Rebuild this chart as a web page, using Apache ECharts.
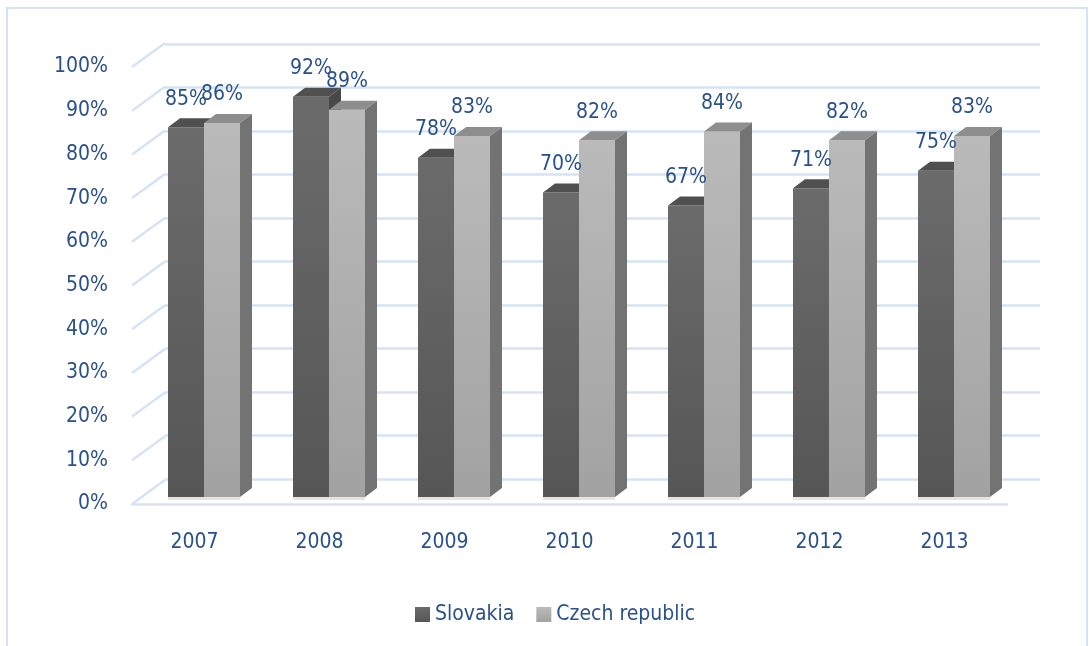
<!DOCTYPE html>
<html>
<head>
<meta charset="utf-8">
<script src="https://cdn.jsdelivr.net/npm/echarts@6/dist/echarts.min.js"></script>
<style>
  html, body { margin: 0; padding: 0; background: #fff; }
  #main { width: 1089px; height: 646px; }
</style>
</head>
<body>
<div id="main"></div>
<script>
let myChart = echarts.init(document.getElementById('main'));

// data
const years = ['2007', '2008', '2009', '2010', '2011', '2012', '2013'];
const slovakia = [85, 92, 78, 70, 67, 71, 75];
const czech = [86, 89, 83, 82, 84, 82, 83];
const yTicks = [0, 10, 20, 30, 40, 50, 60, 70, 80, 90, 100];

const textColor = '#2a5189';
const gridColor = '#d6e3f4';
const font = '"DejaVu Sans Condensed", "Liberation Sans", sans-serif';
const fontSize = 21;

// colours of the two bar sets (front, top, side)
const looks = [
    {
        front: new echarts.graphic.LinearGradient(0, 0, 0, 1, [
            { offset: 0, color: '#6b6b6b' }, { offset: 1, color: '#565656' }
        ]),
        top: '#505050',
        side: '#484848'
    },
    {
        front: new echarts.graphic.LinearGradient(0, 0, 0, 1, [
            { offset: 0, color: '#bababa' }, { offset: 1, color: '#a2a2a2' }
        ]),
        top: '#8e8e8e',
        side: '#737373'
    }
];

// draws one box-shaped bar, left (0) or right (1) of the category centre
function barItem(which) {
    return function (params, api) {
        let cat = api.value(0);
        let v = api.value(1);
        let base = api.coord([cat, 0]);
        let top = api.coord([cat, v]);
        let w = 36, dx = 12, dy = 9;
        let x0 = which === 0 ? base[0] - w : base[0];
        let x1 = x0 + w;
        let yt = top[1], yb = base[1];
        let look = looks[which];
        return {
            type: 'group',
            children: [
                { type: 'rect', shape: { x: x0, y: yt, width: w, height: yb - yt }, style: { fill: look.front } },
                { type: 'polygon', shape: { points: [[x0, yt], [x0 + dx, yt - dy], [x1 + dx, yt - dy], [x1, yt]] }, style: { fill: look.top } },
                { type: 'polygon', shape: { points: [[x1, yt], [x1 + dx, yt - dy], [x1 + dx, yb - dy], [x1, yb]] }, style: { fill: look.side } },
                { type: 'rect', shape: { x: x0, y: yb, width: w, height: 3 }, style: { fill: '#e4e4e4' } },
                {
                    type: 'text', z2: 100,
                    style: {
                        text: v + '%', x: (x0 + x1) / 2, y: yt - 28,
                        align: 'center', verticalAlign: 'middle',
                        fill: textColor, font: fontSize + 'px ' + font
                    }
                }
            ]
        };
    };
}

// slanted lines joining the front labels to the back wall
function sideLine(params, api) {
    let p = api.coord([0, api.value(0)]);
    let x = params.coordSys.x;
    return {
        type: 'line',
        shape: { x1: x, y1: p[1], x2: x + 33, y2: p[1] - 24 },
        style: { stroke: gridColor, lineWidth: 2.5 }
    };
}

let option = {
    animation: false,
    graphic: [
        {
            type: 'rect',
            shape: { x: 7, y: 8, width: 1080, height: 660 },
            style: { fill: 'none', stroke: gridColor, lineWidth: 2 },
            z: -10
        }
    ],
    legend: {
        data: [
            { name: 'Slovakia', icon: 'rect' },
            { name: 'Czech republic', icon: 'rect' }
        ],
        left: 410,
        top: 599,
        itemWidth: 15,
        itemHeight: 15,
        itemGap: 22,
        textStyle: { color: textColor, fontSize: fontSize, fontFamily: font }
    },
    grid: [
        // front plane (labels, floor edge)
        { left: 132, right: 82, top: 67, bottom: 142 },
        // back wall
        { left: 165, right: 49, top: 44, bottom: 167 },
        // bars
        { left: 141.5, right: 72.5, top: 62, bottom: 149 }
    ],
    xAxis: [
        {
            gridIndex: 0, type: 'category', data: years,
            axisLine: { lineStyle: { color: gridColor, width: 2.5 } },
            axisTick: { show: false },
            axisLabel: { color: textColor, fontSize: fontSize, fontFamily: font, margin: 28 }
        },
        { gridIndex: 1, type: 'category', data: years, show: false },
        { gridIndex: 2, type: 'category', data: years, show: false }
    ],
    yAxis: [
        {
            gridIndex: 0, type: 'value', min: 0, max: 100, interval: 10,
            axisLine: { show: false }, axisTick: { show: false }, splitLine: { show: false },
            axisLabel: { formatter: '{value}%', color: textColor, fontSize: fontSize, fontFamily: font, margin: 24 }
        },
        {
            gridIndex: 1, type: 'value', min: 0, max: 100, interval: 10,
            axisLine: { show: false }, axisTick: { show: false }, axisLabel: { show: false },
            splitLine: { lineStyle: { color: gridColor, width: 2.5 } }
        },
        { gridIndex: 2, type: 'value', min: 0, max: 100, show: false }
    ],
    series: [
        {
            type: 'custom', name: 'ticks', xAxisIndex: 0, yAxisIndex: 0,
            renderItem: sideLine, data: yTicks.map(t => [t]), silent: true
        },
        {
            type: 'custom', name: 'Slovakia', xAxisIndex: 2, yAxisIndex: 2,
            itemStyle: { color: looks[0].front },
            renderItem: barItem(0),
            data: slovakia.map((v, i) => [i, v])
        },
        {
            type: 'custom', name: 'Czech republic', xAxisIndex: 2, yAxisIndex: 2,
            itemStyle: { color: looks[1].front },
            renderItem: barItem(1),
            data: czech.map((v, i) => [i, v])
        }
    ]
};

myChart.setOption(option);
</script>
</body>
</html>
